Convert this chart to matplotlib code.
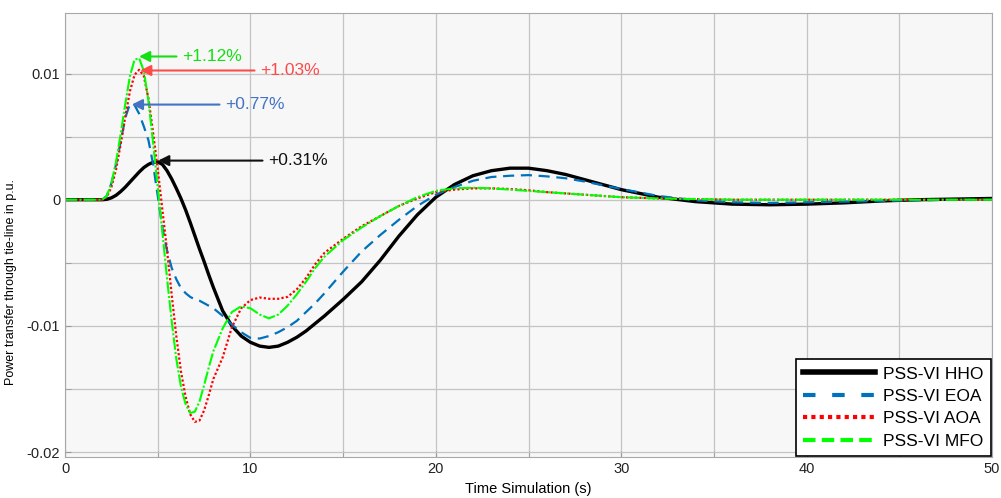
import numpy as np
import matplotlib
matplotlib.use('Agg')
from matplotlib import pyplot as plt
from matplotlib.lines import Line2D
from matplotlib.ticker import MultipleLocator

plt.rcParams['font.family'] = ['Liberation Sans', 'DejaVu Sans']

# time axis (s)
t = np.array([0, 1.0, 2.0, 2.25, 2.5, 2.75, 3.0, 3.25, 3.5, 3.75, 4.0, 4.25, 4.5,
              4.75, 5.0, 5.25, 5.5, 5.75, 6.0, 6.25, 6.5, 6.75, 7.0, 7.25, 7.5,
              7.75, 8.0, 8.5, 9.0, 9.5, 10.0, 10.5, 11.0, 11.5, 12.0, 12.5, 13.0,
              13.5, 14.0, 15, 16, 17, 18, 19, 20, 21, 22, 23, 24, 25, 26, 27, 28,
              29, 30, 32, 34, 36, 38, 40, 42, 44, 46, 48, 50])

# tie-line power deviation, in 1e-3 p.u.
hho = np.array([0, 0, 0, 0.03, 0.15, 0.35, 0.65, 1.0, 1.4, 1.8, 2.2, 2.55, 2.8,
                2.97, 3.0, 2.8, 2.3, 1.65, 0.9, 0.1, -0.8, -1.8, -2.85, -3.9, -4.9,
                -5.95, -6.95, -8.8, -10.0, -10.8, -11.3, -11.6, -11.7, -11.6, -11.3,
                -10.9, -10.4, -9.8, -9.2, -7.9, -6.5, -4.8, -2.9, -1.2, 0.2, 1.2,
                1.9, 2.3, 2.5, 2.5, 2.3, 2.0, 1.6, 1.2, 0.8, 0.2, -0.15, -0.35,
                -0.4, -0.35, -0.25, -0.1, 0, 0.05, 0.1])
eoa = np.array([0, 0, 0, 0.3, 1.3, 2.8, 4.6, 6.5, 7.6, 7.5, 6.8, 5.8, 4.7,
                2.8, 0.3, -2.2, -4.0, -5.4, -6.3, -7.0, -7.4, -7.7, -7.9, -8.0,
                -8.2, -8.4, -8.6, -9.2, -9.9, -10.5, -10.95, -11.0, -10.8, -10.5,
                -10.1, -9.6, -8.9, -8.2, -7.4, -5.7, -4.1, -2.8, -1.6, -0.5, 0.4,
                1.0, 1.5, 1.8, 1.9, 1.95, 1.85, 1.7, 1.45, 1.15, 0.85, 0.3, -0.05,
                -0.2, -0.25, -0.2, -0.15, -0.1, -0.05, 0, 0])
aoa = np.array([0, 0, 0, 0.2, 1.0, 2.4, 4.4, 6.6, 8.6, 9.9, 10.3, 9.8, 8.0,
                5.3, 2.4, -0.8, -4.0, -7.5, -10.8, -13.6, -15.6, -17.0, -17.6,
                -17.5, -16.7, -15.5, -14.2, -12.5, -10.1, -8.6, -7.95, -7.75,
                -7.85, -7.85, -7.7, -7.1, -6.2, -5.1, -4.2, -3.1, -2.1, -1.3, -0.5,
                0.1, 0.6, 0.8, 0.9, 0.9, 0.85, 0.75, 0.6, 0.5, 0.4, 0.3, 0.2, 0.1,
                0.05, 0, 0, 0, 0, 0, 0, 0, 0])
mfo = np.array([0, 0, 0, 0.3, 1.3, 3.0, 5.2, 7.6, 9.8, 11.1, 11.2, 10.2, 7.8,
                4.5, 1.0, -2.6, -6.2, -9.6, -12.6, -14.8, -16.2, -16.9, -16.8,
                -16.0, -14.7, -13.3, -12.0, -10.2, -8.9, -8.45, -8.6, -9.1, -9.4,
                -9.1, -8.4, -7.5, -6.5, -5.4, -4.5, -3.2, -2.2, -1.3, -0.5, 0.2,
                0.7, 0.9, 0.95, 0.9, 0.8, 0.7, 0.6, 0.5, 0.4, 0.3, 0.2, 0.1, 0.05,
                0, 0, 0, 0, 0, 0, 0, 0])

labels = ['PSS-VI HHO', 'PSS-VI EOA', 'PSS-VI AOA', 'PSS-VI MFO']

# overshoot annotations: text, tip (t, y), text start (t, y)
notes = ['+1.12%', '+1.03%', '+0.77%', '+0.31%']
tips = [(3.99, 0.01135), (4.05, 0.01024), (3.6, 0.00754), (5.02, 0.0031)]
txts = [(6.31, 0.01135), (10.52, 0.01024), (8.63, 0.00754), (10.95, 0.0031)]
note_cols = ['#12E012', '#FF4A4A', '#4472C4', '#111111']

fig = plt.figure(figsize=(10.01, 4.98), dpi=100)
ax = fig.add_axes([0.065, 0.082, 0.926, 0.892])
ax.set_facecolor('#F7F7F7')

ax.plot(t, hho*1e-3, '-', color='black', lw=2.4)
ax.plot(t, eoa*1e-3, color='#0072BD', lw=1.6, dashes=(5, 3))
ax.plot(t, aoa*1e-3, color='#FF0000', lw=1.6, dashes=(1, 1))
ax.plot(t, mfo*1e-3, color='#00FF00', lw=1.5, dashes=(6, 1, 1, 1))

for s, tip, tx, c in zip(notes, tips, txts, note_cols):
    ax.annotate(s, xy=tip, xytext=tx, color=c, fontsize=12.5,
                ha='left', va='center',
                arrowprops=dict(arrowstyle='-|>', color=c, lw=1.5,
                                mutation_scale=16, shrinkA=2, shrinkB=0))

ax.set_xlim(0, 50)
ax.set_ylim(-0.0204, 0.0148)
ax.xaxis.set_major_locator(MultipleLocator(10))
ax.xaxis.set_minor_locator(MultipleLocator(5))
ax.yaxis.set_major_locator(MultipleLocator(0.01))
ax.yaxis.set_minor_locator(MultipleLocator(0.005))
ax.set_yticks([-0.02, -0.01, 0, 0.01])
ax.set_yticklabels(['-0.02', '-0.01', '0', '0.01'])
ax.grid(True, which='both', color='#C4C4C4', lw=0.9)
ax.set_axisbelow(True)
ax.tick_params(which='both', direction='in', length=4, color='#999999',
               labelsize=10.5, labelcolor='#222222')
for sp in ax.spines.values():
    sp.set_color('#A8A8A8')

ax.set_xlabel('Time Simulation (s)', fontsize=10.5, labelpad=4)
ax.set_ylabel('Power transfer through tie-line in p.u.', fontsize=9)
ax.yaxis.set_label_coords(-0.052, 0.395)

handles = [Line2D([], [], color='black', lw=4),
           Line2D([], [], color='#0072BD', lw=3, dashes=(3, 4)),
           Line2D([], [], color='#FF0000', lw=3, dashes=(1, 1)),
           Line2D([], [], color='#00FF00', lw=3, dashes=(3, 1.5))]
leg = ax.legend(handles, labels, loc='lower right', fontsize=12.5,
                handlelength=4.1, labelspacing=0.42, borderpad=0.4,
                handletextpad=0.5, fancybox=False, framealpha=1,
                borderaxespad=0, bbox_to_anchor=(0.9985, 0.003))
leg.get_frame().set_edgecolor('black')
leg.get_frame().set_linewidth(1.2)

plt.savefig('out.png', dpi=100)
